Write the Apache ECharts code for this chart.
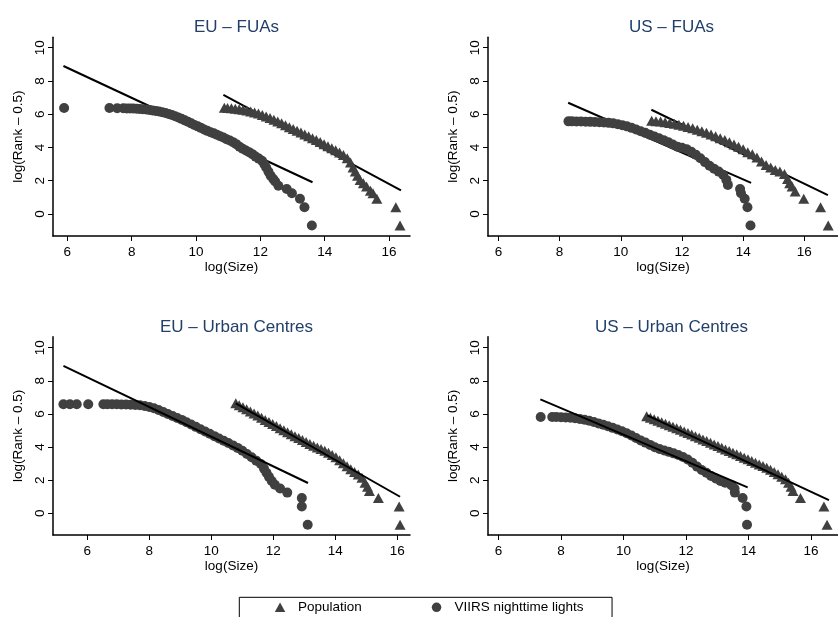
<!DOCTYPE html>
<html>
<head>
<meta charset="utf-8">
<script src="https://cdn.jsdelivr.net/npm/echarts@6/dist/echarts.min.js"></script>
<style>
html,body{margin:0;padding:0;background:#fff;}
#chart{width:838px;height:617px;}
</style>
</head>
<body>
<div id="chart"></div>
<script>
// ---------- DATA (log(Size), log(Rank - 0.5)) ----------
const panelTitles = ['EU \u2013 FUAs', 'US \u2013 FUAs', 'EU \u2013 Urban Centres', 'US \u2013 Urban Centres'];
const xTickValues = [6, 8, 10, 12, 14, 16];
const yTickValues = [0, 2, 4, 6, 8, 10];
const legendNames = ['Population', 'VIIRS nighttime lights'];

// EU - FUAs
const euFuaLights = [[5.90,6.37],[7.31,6.37],[7.55,6.36],[7.74,6.36],[7.85,6.35],[7.95,6.35],[8.05,6.34],[8.15,6.33],[8.25,6.32],[8.35,6.30],[8.45,6.28],[8.55,6.26],[8.65,6.23],[8.75,6.20],[8.85,6.16],[8.95,6.12],[9.05,6.07],[9.15,6.01],[9.25,5.95],[9.35,5.88],[9.45,5.80],[9.55,5.72],[9.65,5.63],[9.75,5.55],[9.85,5.45],[9.95,5.35],[10.05,5.27],[10.15,5.18],[10.25,5.08],[10.35,5.00],[10.45,4.92],[10.55,4.85],[10.65,4.77],[10.75,4.68],[10.85,4.60],[10.95,4.50],[11.05,4.42],[11.15,4.32],[11.25,4.20],[11.35,4.05],[11.45,3.92],[11.55,3.82],[11.65,3.72],[11.75,3.60],[11.85,3.45],[11.95,3.33],[12.05,3.20],[12.12,3.00],[12.18,2.80],[12.25,2.55],[12.32,2.30],[12.40,2.10],[12.46,1.95],[12.56,1.70],[12.82,1.50],[12.98,1.25],[13.23,0.92],[13.37,0.41],[13.60,-0.69]];
const euFuaPop = [[10.88,6.39],[10.98,6.38],[11.10,6.36],[11.22,6.33],[11.34,6.30],[11.46,6.27],[11.58,6.22],[11.70,6.17],[11.82,6.11],[11.94,6.04],[12.06,5.96],[12.18,5.87],[12.30,5.77],[12.42,5.67],[12.54,5.56],[12.66,5.45],[12.78,5.34],[12.90,5.22],[13.02,5.11],[13.14,5.00],[13.26,4.90],[13.38,4.78],[13.50,4.67],[13.62,4.56],[13.74,4.45],[13.86,4.33],[13.98,4.20],[14.10,4.08],[14.22,3.95],[14.34,3.83],[14.46,3.70],[14.58,3.55],[14.70,3.35],[14.80,3.10],[14.88,2.80],[14.95,2.55],[15.02,2.30],[15.10,2.05],[15.20,1.85],[15.30,1.65],[15.42,1.40],[15.50,1.25],[15.62,0.92],[16.21,0.41],[16.34,-0.69]];
const euFuaLightsFit = [[5.88,8.90],[13.62,1.91]];
const euFuaPopFit = [[10.85,7.16],[16.37,1.42]];

// US - FUAs
const usFuaLights = [[8.29,5.57],[8.40,5.57],[8.55,5.56],[8.70,5.56],[8.85,5.55],[9.00,5.54],[9.15,5.53],[9.30,5.52],[9.45,5.50],[9.60,5.48],[9.75,5.45],[9.90,5.40],[10.05,5.34],[10.20,5.27],[10.35,5.18],[10.50,5.08],[10.65,4.98],[10.80,4.88],[10.95,4.77],[11.10,4.66],[11.25,4.55],[11.40,4.44],[11.55,4.32],[11.70,4.18],[11.85,4.05],[12.00,3.98],[12.15,3.90],[12.30,3.75],[12.45,3.57],[12.60,3.35],[12.75,3.12],[12.90,2.90],[13.05,2.72],[13.20,2.55],[13.35,2.35],[13.45,2.05],[13.50,1.75],[13.90,1.50],[13.93,1.25],[14.05,0.92],[14.14,0.41],[14.24,-0.69]];
const usFuaPop = [[11.01,5.60],[11.15,5.58],[11.30,5.56],[11.45,5.52],[11.60,5.47],[11.75,5.42],[11.90,5.36],[12.05,5.30],[12.20,5.23],[12.35,5.15],[12.50,5.07],[12.65,4.98],[12.80,4.88],[12.95,4.78],[13.10,4.68],[13.25,4.56],[13.40,4.45],[13.55,4.32],[13.70,4.18],[13.85,4.05],[14.00,3.90],[14.15,3.72],[14.30,3.60],[14.45,3.40],[14.60,3.15],[14.75,2.95],[14.90,2.80],[15.05,2.65],[15.20,2.55],[15.35,2.40],[15.45,2.10],[15.52,1.85],[15.60,1.65],[15.70,1.35],[15.98,0.92],[16.53,0.41],[16.78,-0.69]];
const usFuaLightsFit = [[8.28,6.69],[14.26,1.87]];
const usFuaPopFit = [[11.00,6.27],[16.77,1.14]];

// EU - Urban Centres
const euUcLights = [[5.23,6.58],[5.44,6.58],[5.66,6.58],[6.03,6.58],[6.52,6.58],[6.65,6.58],[6.80,6.58],[6.95,6.58],[7.10,6.57],[7.25,6.57],[7.40,6.56],[7.55,6.54],[7.70,6.52],[7.85,6.48],[8.00,6.42],[8.15,6.34],[8.30,6.24],[8.45,6.12],[8.60,6.00],[8.75,5.88],[8.90,5.76],[9.05,5.64],[9.20,5.50],[9.35,5.36],[9.50,5.22],[9.65,5.08],[9.80,4.94],[9.95,4.80],[10.10,4.66],[10.25,4.52],[10.40,4.38],[10.55,4.24],[10.70,4.10],[10.85,3.95],[11.00,3.78],[11.15,3.58],[11.30,3.38],[11.45,3.18],[11.60,2.98],[11.70,2.70],[11.78,2.45],[11.86,2.20],[11.95,1.95],[12.05,1.72],[12.22,1.50],[12.45,1.25],[12.92,0.92],[12.92,0.41],[13.11,-0.69]];
const euUcPop = [[10.79,6.64],[10.90,6.53],[11.02,6.41],[11.14,6.28],[11.26,6.15],[11.38,6.02],[11.50,5.90],[11.62,5.77],[11.74,5.64],[11.86,5.51],[11.98,5.39],[12.10,5.27],[12.22,5.14],[12.34,5.02],[12.46,4.90],[12.58,4.78],[12.70,4.66],[12.82,4.54],[12.94,4.42],[13.06,4.30],[13.18,4.19],[13.30,4.08],[13.42,3.98],[13.54,3.88],[13.66,3.78],[13.78,3.66],[13.90,3.52],[14.02,3.38],[14.14,3.20],[14.26,3.02],[14.38,2.84],[14.50,2.66],[14.62,2.50],[14.74,2.35],[14.86,2.15],[14.96,1.85],[15.04,1.60],[15.10,1.35],[15.39,0.92],[16.06,0.41],[16.09,-0.69]];
const euUcLightsFit = [[5.23,8.90],[13.12,1.83]];
const euUcPopFit = [[10.79,6.64],[16.09,1.00]];

// US - Urban Centres
const usUcLights = [[7.35,5.82],[7.72,5.81],[7.85,5.81],[8.00,5.80],[8.15,5.79],[8.30,5.77],[8.45,5.74],[8.60,5.70],[8.75,5.65],[8.90,5.59],[9.05,5.51],[9.20,5.43],[9.35,5.35],[9.50,5.26],[9.65,5.16],[9.80,5.06],[9.95,4.95],[10.10,4.83],[10.25,4.70],[10.40,4.55],[10.55,4.40],[10.70,4.27],[10.85,4.13],[11.00,3.99],[11.15,3.88],[11.30,3.79],[11.45,3.71],[11.60,3.62],[11.75,3.52],[11.90,3.40],[12.05,3.25],[12.20,3.05],[12.35,2.82],[12.50,2.62],[12.65,2.45],[12.80,2.25],[12.95,2.10],[13.10,1.95],[13.25,1.85],[13.45,1.70],[13.55,1.50],[13.56,1.25],[13.81,0.92],[13.93,0.41],[13.95,-0.69]];
const usUcPop = [[10.74,5.86],[10.86,5.77],[10.98,5.68],[11.10,5.59],[11.22,5.50],[11.34,5.41],[11.46,5.32],[11.58,5.22],[11.70,5.13],[11.82,5.04],[11.94,4.94],[12.06,4.85],[12.18,4.76],[12.30,4.66],[12.42,4.56],[12.54,4.46],[12.66,4.36],[12.78,4.26],[12.90,4.16],[13.02,4.06],[13.14,3.96],[13.26,3.86],[13.38,3.76],[13.50,3.66],[13.62,3.56],[13.74,3.46],[13.86,3.36],[13.98,3.26],[14.10,3.16],[14.22,3.05],[14.34,2.95],[14.46,2.85],[14.58,2.75],[14.70,2.63],[14.82,2.50],[14.94,2.36],[15.06,2.20],[15.18,2.05],[15.28,1.85],[15.36,1.60],[15.42,1.35],[15.66,0.92],[16.41,0.41],[16.51,-0.69]];
const usUcLightsFit = [[7.34,6.88],[13.97,1.57]];
const usUcPopFit = [[10.76,5.91],[16.57,0.80]];

// ---------- LAYOUT ----------
const FONT = '"Liberation Sans", Arial, Helvetica, sans-serif';
const MARK = '#404040';
const grids = [
  {left: 53,  top: 37.3,  width: 357, height: 198.7},
  {left: 488, top: 37.3,  width: 357, height: 198.7},
  {left: 53,  top: 336.7, width: 357, height: 198.3},
  {left: 488, top: 336.7, width: 357, height: 198.3}
];
const xRanges = [[5.555, 16.65], [5.66, 17.10], [4.894, 16.41], [5.665, 16.86]];
const yRanges = [[-1.323, 10.625], [-1.323, 10.625], [-1.310, 10.664], [-1.310, 10.664]];
// fit lines under the markers in the FUA panels, over them in the Urban Centre panels
const fitOnTop = [false, false, true, true];
const panels = [
  {pop: euFuaPop, lights: euFuaLights, popFit: euFuaPopFit, lightsFit: euFuaLightsFit},
  {pop: usFuaPop, lights: usFuaLights, popFit: usFuaPopFit, lightsFit: usFuaLightsFit},
  {pop: euUcPop, lights: euUcLights, popFit: euUcPopFit, lightsFit: euUcLightsFit},
  {pop: usUcPop, lights: usUcLights, popFit: usUcPopFit, lightsFit: usUcLightsFit}
];

const axisLine = {show: true, onZero: false, lineStyle: {color: '#000', width: 1.5}};
const axisTick = (vals) => ({show: true, inside: false, length: 5, lineStyle: {color: '#000', width: 1}, customValues: vals});

const xAxes = grids.map((g, i) => ({
  type: 'value', gridIndex: i, min: xRanges[i][0], max: xRanges[i][1],
  axisLine: axisLine, axisTick: axisTick(xTickValues),
  axisLabel: {customValues: xTickValues, margin: 9, color: '#000', fontSize: 13.5, fontFamily: FONT},
  splitLine: {show: false},
  name: 'log(Size)', nameLocation: 'middle', nameGap: 23,
  nameTextStyle: {color: '#000', fontSize: 13.5, fontFamily: FONT}
}));
const yAxes = grids.map((g, i) => ({
  type: 'value', gridIndex: i, min: yRanges[i][0], max: yRanges[i][1],
  axisLine: axisLine, axisTick: axisTick(yTickValues),
  axisLabel: {customValues: yTickValues, rotate: 90, margin: 6, color: '#000', fontSize: 13.5, fontFamily: FONT},
  splitLine: {show: false},
  name: 'log(Rank \u2013 0.5)', nameLocation: 'middle', nameGap: 28,
  nameTextStyle: {color: '#000', fontSize: 13.5, fontFamily: FONT}
}));

const series = [];
panels.forEach((p, i) => {
  const zFit = fitOnTop[i] ? 4 : 1;
  series.push({
    name: legendNames[0], type: 'scatter', xAxisIndex: i, yAxisIndex: i,
    symbol: 'triangle', symbolSize: [11, 10], data: p.pop,
    itemStyle: {color: MARK, opacity: 1}, z: 2
  });
  series.push({
    name: legendNames[1], type: 'scatter', xAxisIndex: i, yAxisIndex: i,
    symbol: 'circle', symbolSize: 10, data: p.lights,
    itemStyle: {color: MARK, opacity: 1}, z: 2
  });
  series.push({
    name: 'fitPop' + i, type: 'line', xAxisIndex: i, yAxisIndex: i,
    data: p.popFit, showSymbol: false, symbol: 'none',
    lineStyle: {color: '#000', width: 2}, z: zFit
  });
  series.push({
    name: 'fitLights' + i, type: 'line', xAxisIndex: i, yAxisIndex: i,
    data: p.lightsFit, showSymbol: false, symbol: 'none',
    lineStyle: {color: '#000', width: 2}, z: zFit
  });
});

const titles = grids.map((g, i) => ({
  text: panelTitles[i], left: g.left + g.width / 2, top: g.top - 23, textAlign: 'center',
  textStyle: {color: '#22406a', fontSize: 17, fontWeight: 'normal', fontFamily: FONT}
}));

const chart = echarts.init(document.getElementById('chart'), null, {renderer: 'canvas'});
chart.setOption({
  backgroundColor: '#fff',
  animation: false,
  title: titles,
  grid: grids,
  xAxis: xAxes,
  yAxis: yAxes,
  legend: {
    data: legendNames, left: 239.3, top: 597.3, orient: 'horizontal',
    padding: [3, 28.5, 20, 35.5], itemGap: 70, itemWidth: 10.5, itemHeight: 9.5,
    borderColor: '#000', borderWidth: 1, selectedMode: false,
    textStyle: {color: '#000', fontSize: 13.5, fontFamily: FONT, padding: [0, 0, 0, 7.7]}
  },
  series: series
});
</script>
</body>
</html>
